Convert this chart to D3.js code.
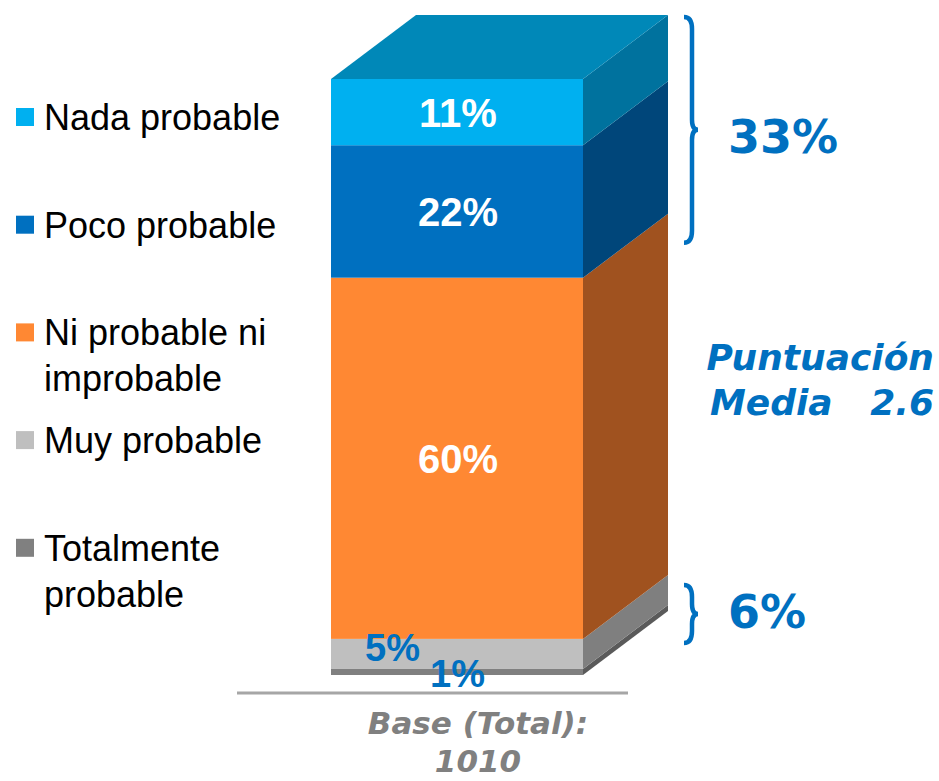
<!DOCTYPE html>
<html><head><meta charset="utf-8">
<script src="https://cdn.jsdelivr.net/npm/d3@7"></script>
<style>body{margin:0;background:#fff}svg{display:block}</style>
</head><body>
<script>
// data (bottom -> top of stack)
const categories = ["Totalmente probable","Muy probable","Ni probable ni improbable","Poco probable","Nada probable"];
const legendLines = [["Totalmente","probable"],["Muy probable"],["Ni probable ni","improbable"],["Poco probable"],["Nada probable"]];
const values = [1,5,60,22,11];
const frontColors = ["#808080","#BFBFBF","#FF8833","#0070C0","#00B0F0"];
const sideColors = ["#5A5A5A","#7F7F7F","#A0521F","#00467A","#00729E"];
const topColor = "#0088B8";
const baseLabel = ["Base (Total):","1010"];
const meanLabel = ["Puntuación","Media   2.6"];

const W=939,H=781;
const svg=d3.select("body").append("svg").attr("width",W).attr("height",H);
const total=d3.sum(values);
const y=d3.scaleLinear().domain([0,total]).range([675,79]);
const x=d3.scaleBand().domain(["Total"]).range([331,583]).padding(0);
const dx=85, dy=-64;
const x0=x("Total"), x1=x0+x.bandwidth();
let cum=0;
const segs=values.map((v,i)=>{const s={v,i,lo:cum,hi:cum+v};cum+=v;return s;});

// side faces
svg.selectAll("path.side").data(segs).enter().append("path")
  .attr("fill",d=>sideColors[d.i])
  .attr("d",d=>`M${x1},${y(d.lo)}L${x1},${y(d.hi)}L${x1+dx},${y(d.hi)+dy}L${x1+dx},${y(d.lo)+dy}Z`);
// top face
svg.append("path").attr("fill",topColor)
  .attr("d",`M${x0},${y(total)}L${x1},${y(total)}L${x1+dx},${y(total)+dy}L${x0+dx},${y(total)+dy}Z`);
// front faces
svg.selectAll("rect.front").data(segs).enter().append("rect")
  .attr("x",x0).attr("width",x.bandwidth())
  .attr("y",d=>y(d.hi)).attr("height",d=>y(d.lo)-y(d.hi))
  .attr("fill",d=>frontColors[d.i]);

// baseline
svg.append("line").attr("x1",237).attr("x2",628).attr("y1",693).attr("y2",693)
  .attr("stroke","#A6A6A6").attr("stroke-width",3);

// labels inside bars
const cx=x0+x.bandwidth()/2+1;
svg.selectAll("text.in").data(segs.filter(d=>d.v>=10)).enter().append("text")
  .attr("x",cx).attr("y",d=>(y(d.lo)+y(d.hi))/2+15)
  .attr("text-anchor","middle").attr("fill","#fff")
  .attr("font-family","Liberation Sans, Arial, sans-serif").attr("font-weight","bold")
  .attr("font-size",40).text(d=>d.v+"%");
// small labels
svg.append("text").attr("x",x0+34).attr("y",y(segs[1].hi)+22)
  .attr("fill","#0070C0").attr("font-family","Liberation Sans, Arial, sans-serif")
  .attr("font-weight","bold").attr("font-size",38).text(values[1]+"%");
svg.append("text").attr("x",x0+99).attr("y",y(0)+12)
  .attr("fill","#0070C0").attr("font-family","Liberation Sans, Arial, sans-serif")
  .attr("font-weight","bold").attr("font-size",38).text(values[0]+"%");

// base label
svg.selectAll("text.base").data(baseLabel).enter().append("text")
  .attr("x",478).attr("y",(d,i)=>734+i*38).attr("text-anchor","middle")
  .attr("fill","#808080").attr("font-family","DejaVu Sans, Verdana, sans-serif")
  .attr("font-weight","bold").attr("font-style","italic").attr("font-size",31).text(d=>d);

// legend (top -> bottom)
const lg=svg.append("g");
const order=d3.range(values.length).reverse();
order.forEach((ci,k)=>{
  const ty=108+k*107.7;
  lg.append("rect").attr("x",16).attr("y",ty).attr("width",18).attr("height",18).attr("fill",frontColors[ci]);
  legendLines[ci].forEach((ln,j)=>{
    lg.append("text").attr("x",44).attr("y",ty+22+j*46)
      .attr("font-family","Liberation Sans, Arial, sans-serif").attr("font-size",36)
      .attr("fill","#000").text(ln);
  });
});

// brackets
function brace(xa,top,bot,w){
  const mid=(top+bot)/2, xm=xa+8;
  return `M${xa},${top} Q${xm},${top} ${xm},${top+12} L${xm},${mid-10} Q${xm},${mid} ${xm+w-8},${mid} Q${xm},${mid} ${xm},${mid+10} L${xm},${bot-12} Q${xm},${bot} ${xa},${bot}`;
}
const upTop=y(total)+dy+2, upBot=y(segs[3].lo)-35;
const loTop=y(segs[1].hi)+dy, loBot=y(0)-32;
svg.append("path").attr("d",brace(684,upTop,upBot,14)).attr("fill","none").attr("stroke","#0070C0").attr("stroke-width",4.5);
svg.append("path").attr("d",brace(684,loTop+10,loBot,14)).attr("fill","none").attr("stroke","#0070C0").attr("stroke-width",4.5);
const bf="DejaVu Sans, Verdana, sans-serif";
svg.append("text").attr("x",728).attr("y",(upTop+upBot)/2+23).attr("fill","#0070C0")
  .attr("font-family",bf).attr("font-weight","bold").attr("font-size",46).text((values[3]+values[4])+"%");
svg.append("text").attr("x",728).attr("y",(loTop+10+loBot)/2+14).attr("fill","#0070C0")
  .attr("font-family",bf).attr("font-weight","bold").attr("font-size",46).text((values[0]+values[1])+"%");
svg.selectAll("text.mean").data(meanLabel).enter().append("text")
  .attr("x",934).attr("y",(d,i)=>370+i*45).attr("text-anchor","end").attr("xml:space","preserve")
  .style("white-space","pre")
  .attr("fill","#0070C0").attr("font-family",bf).attr("font-weight","bold").attr("font-style","italic")
  .attr("font-size",36).text(d=>d);
</script>
</body></html>
